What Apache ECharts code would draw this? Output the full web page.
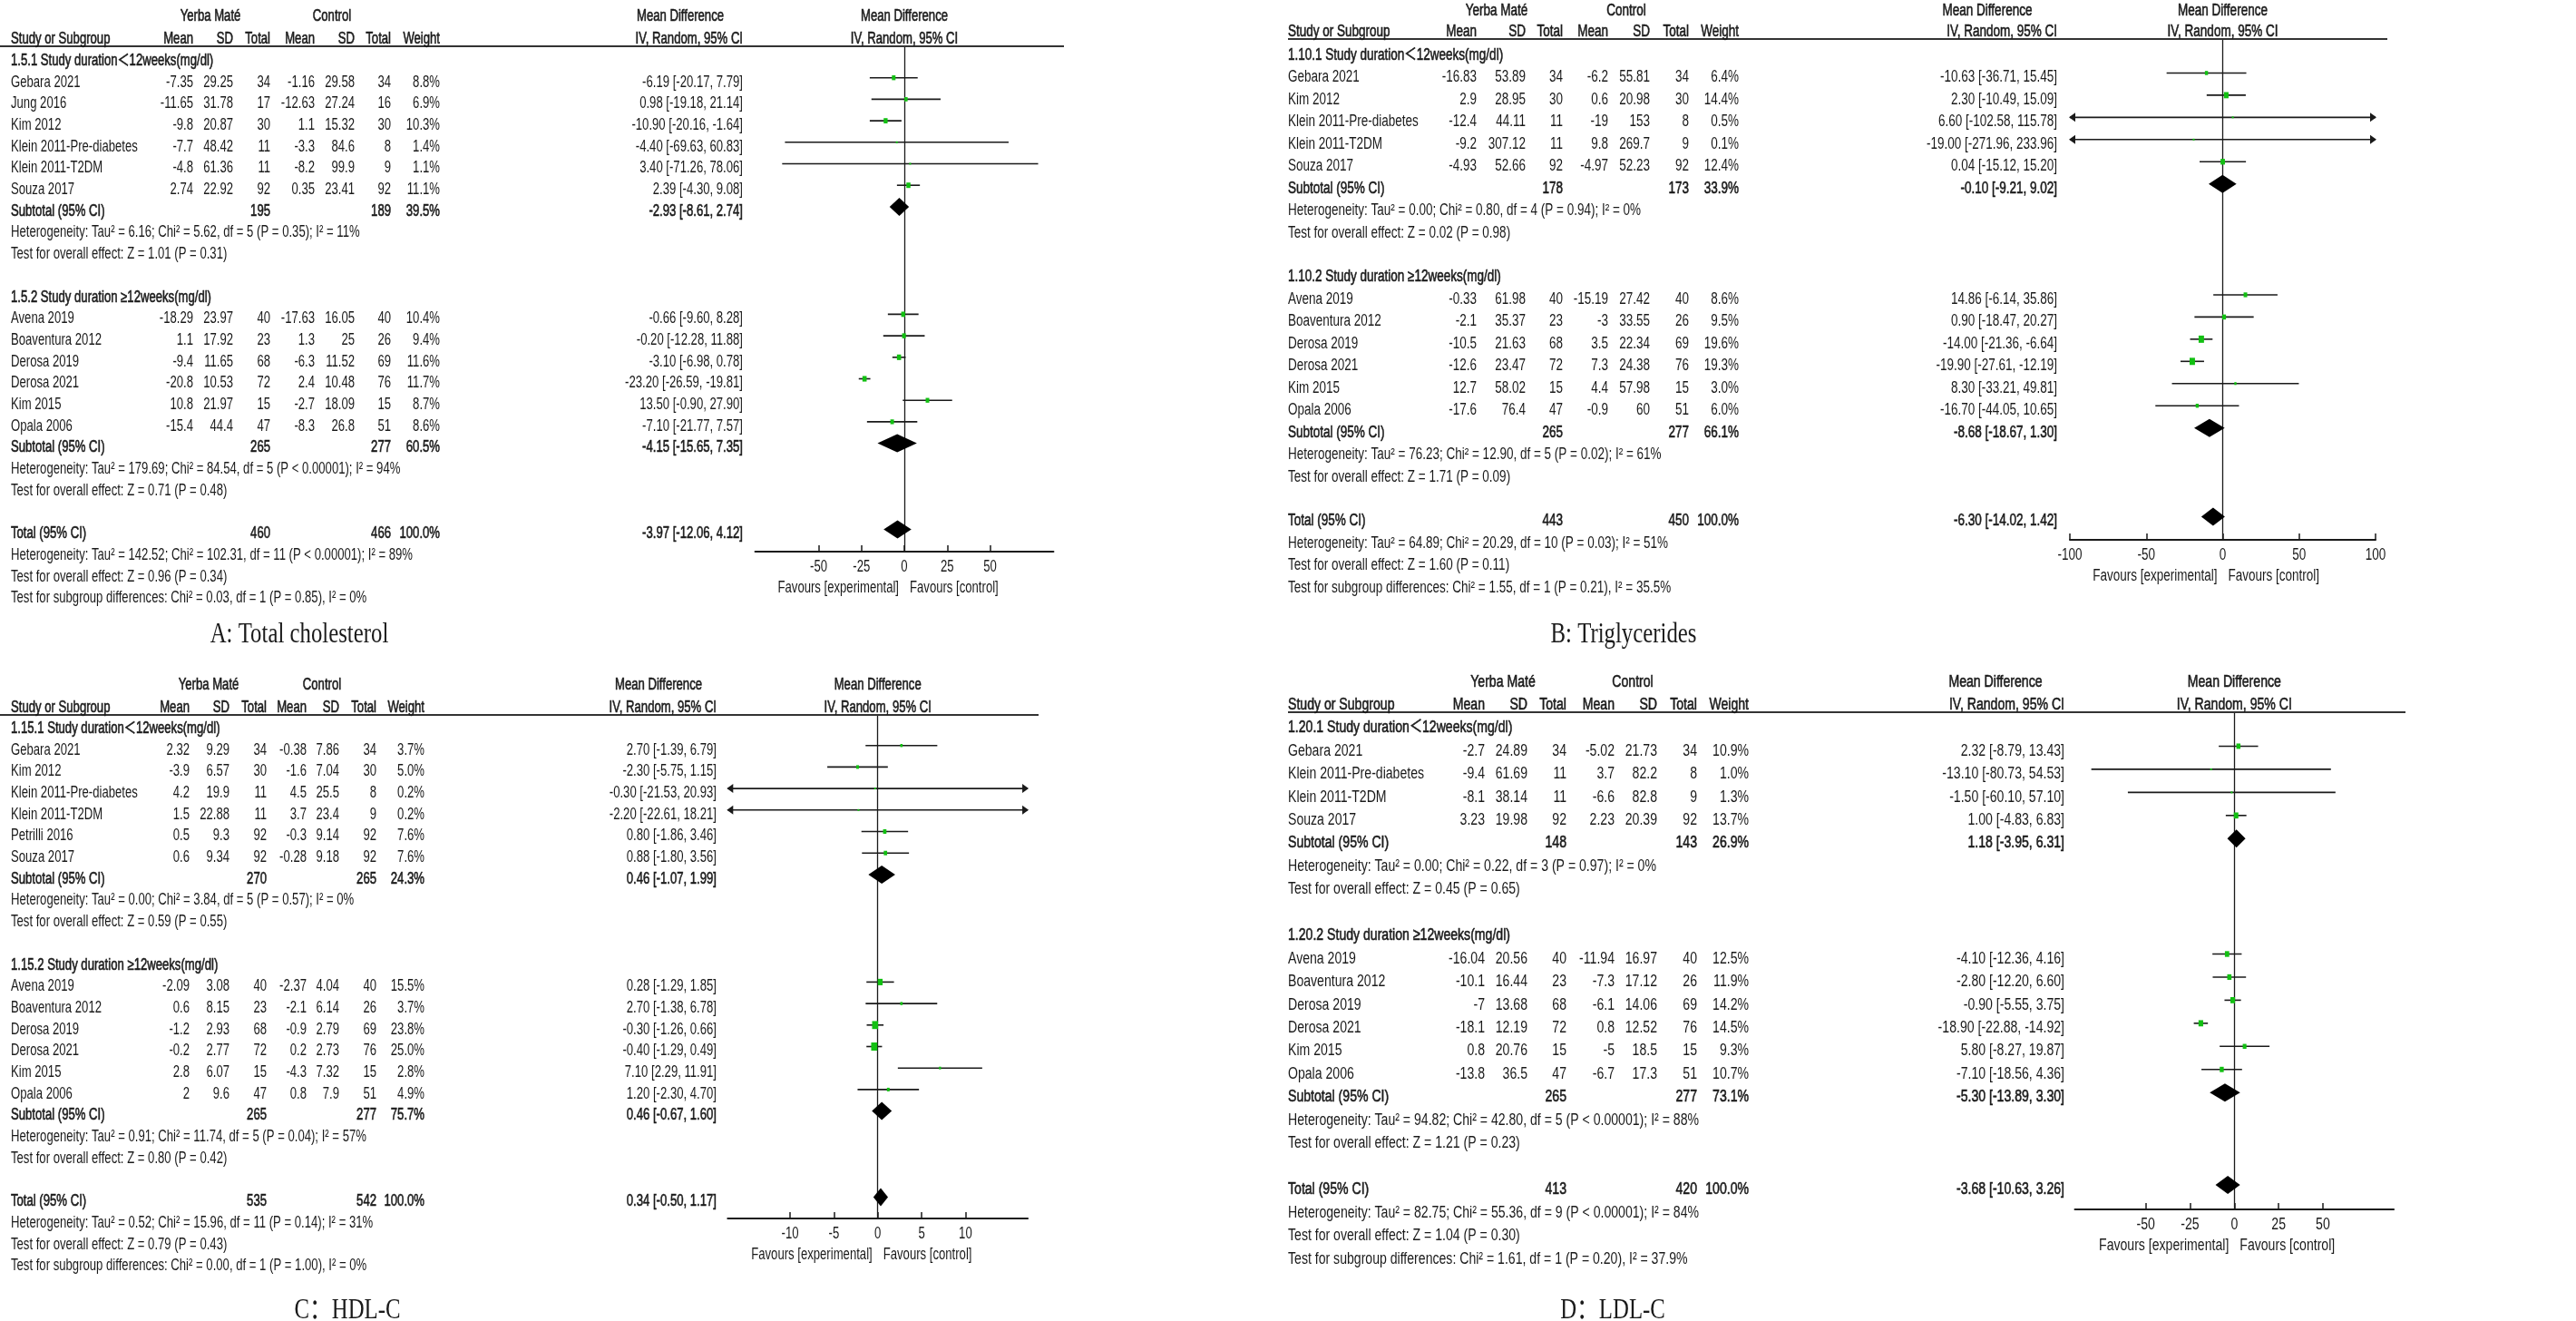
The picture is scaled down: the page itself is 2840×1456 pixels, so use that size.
<!DOCTYPE html>
<html><head><meta charset="utf-8">
<script src="https://cdn.jsdelivr.net/npm/echarts@6/dist/echarts.min.js"></script>
<style>html,body{margin:0;padding:0;background:#fff}#c{width:2840px;height:1456px}</style>
</head><body><div id="c"></div>
<script>
// ================= DATA =================
// ---- A: Total cholesterol ----
const tcHeadings = ['1.5.1 Study duration\uFF1C12weeks(mg/dl)', '1.5.2 Study duration \u226512weeks(mg/dl)'];
const tcStudies1 = ['Gebara 2021','Jung 2016','Kim 2012','Klein 2011-Pre-diabetes','Klein 2011-T2DM','Souza 2017'];
const tcYerba1 = [[-7.35,29.25,34],[-11.65,31.78,17],[-9.8,20.87,30],[-7.7,48.42,11],[-4.8,61.36,11],[2.74,22.92,92]];
const tcControl1 = [[-1.16,29.58,34],[-12.63,27.24,16],[1.1,15.32,30],[-3.3,84.6,8],[-8.2,99.9,9],[0.35,23.41,92]];
const tcWeight1 = [8.8,6.9,10.3,1.4,1.1,11.1];
const tcEffect1 = [[-6.19,-20.17,7.79],[0.98,-19.18,21.14],[-10.90,-20.16,-1.64],[-4.40,-69.63,60.83],[3.40,-71.26,78.06],[2.39,-4.30,9.08]];
const tcStudies2 = ['Avena 2019','Boaventura 2012','Derosa 2019','Derosa 2021','Kim 2015','Opala 2006'];
const tcYerba2 = [[-18.29,23.97,40],[1.1,17.92,23],[-9.4,11.65,68],[-20.8,10.53,72],[10.8,21.97,15],[-15.4,44.4,47]];
const tcControl2 = [[-17.63,16.05,40],[1.3,25,26],[-6.3,11.52,69],[2.4,10.48,76],[-2.7,18.09,15],[-8.3,26.8,51]];
const tcWeight2 = [10.4,9.4,11.6,11.7,8.7,8.6];
const tcEffect2 = [[-0.66,-9.60,8.28],[-0.20,-12.28,11.88],[-3.10,-6.98,0.78],[-23.20,-26.59,-19.81],[13.50,-0.90,27.90],[-7.10,-21.77,7.57]];
const tcPooled = [[195,189,39.5,-2.93,-8.61,2.74],[265,277,60.5,-4.15,-15.65,7.35],[460,466,100.0,-3.97,-12.06,4.12]];
const tcStats = [
  'Heterogeneity: Tau\u00B2 = 6.16; Chi\u00B2 = 5.62, df = 5 (P = 0.35); I\u00B2 = 11%',
  'Test for overall effect: Z = 1.01 (P = 0.31)',
  'Heterogeneity: Tau\u00B2 = 179.69; Chi\u00B2 = 84.54, df = 5 (P < 0.00001); I\u00B2 = 94%',
  'Test for overall effect: Z = 0.71 (P = 0.48)',
  'Heterogeneity: Tau\u00B2 = 142.52; Chi\u00B2 = 102.31, df = 11 (P < 0.00001); I\u00B2 = 89%',
  'Test for overall effect: Z = 0.96 (P = 0.34)',
  'Test for subgroup differences: Chi\u00B2 = 0.03, df = 1 (P = 0.85), I\u00B2 = 0%'];
const tcTicks = [-50,-25,0,25,50];

// ---- B: Triglycerides ----
const tgHeadings = ['1.10.1 Study duration\uFF1C12weeks(mg/dl)', '1.10.2 Study duration \u226512weeks(mg/dl)'];
const tgStudies1 = ['Gebara 2021','Kim 2012','Klein 2011-Pre-diabetes','Klein 2011-T2DM','Souza 2017'];
const tgYerba1 = [[-16.83,53.89,34],[2.9,28.95,30],[-12.4,44.11,11],[-9.2,307.12,11],[-4.93,52.66,92]];
const tgControl1 = [[-6.2,55.81,34],[0.6,20.98,30],[-19,153,8],[9.8,269.7,9],[-4.97,52.23,92]];
const tgWeight1 = [6.4,14.4,0.5,0.1,12.4];
const tgEffect1 = [[-10.63,-36.71,15.45],[2.30,-10.49,15.09],[6.60,-102.58,115.78],[-19.00,-271.96,233.96],[0.04,-15.12,15.20]];
const tgStudies2 = ['Avena 2019','Boaventura 2012','Derosa 2019','Derosa 2021','Kim 2015','Opala 2006'];
const tgYerba2 = [[-0.33,61.98,40],[-2.1,35.37,23],[-10.5,21.63,68],[-12.6,23.47,72],[12.7,58.02,15],[-17.6,76.4,47]];
const tgControl2 = [[-15.19,27.42,40],[-3,33.55,26],[3.5,22.34,69],[7.3,24.38,76],[4.4,57.98,15],[-0.9,60,51]];
const tgWeight2 = [8.6,9.5,19.6,19.3,3.0,6.0];
const tgEffect2 = [[14.86,-6.14,35.86],[0.90,-18.47,20.27],[-14.00,-21.36,-6.64],[-19.90,-27.61,-12.19],[8.30,-33.21,49.81],[-16.70,-44.05,10.65]];
const tgPooled = [[178,173,33.9,-0.10,-9.21,9.02],[265,277,66.1,-8.68,-18.67,1.30],[443,450,100.0,-6.30,-14.02,1.42]];
const tgStats = [
  'Heterogeneity: Tau\u00B2 = 0.00; Chi\u00B2 = 0.80, df = 4 (P = 0.94); I\u00B2 = 0%',
  'Test for overall effect: Z = 0.02 (P = 0.98)',
  'Heterogeneity: Tau\u00B2 = 76.23; Chi\u00B2 = 12.90, df = 5 (P = 0.02); I\u00B2 = 61%',
  'Test for overall effect: Z = 1.71 (P = 0.09)',
  'Heterogeneity: Tau\u00B2 = 64.89; Chi\u00B2 = 20.29, df = 10 (P = 0.03); I\u00B2 = 51%',
  'Test for overall effect: Z = 1.60 (P = 0.11)',
  'Test for subgroup differences: Chi\u00B2 = 1.55, df = 1 (P = 0.21), I\u00B2 = 35.5%'];
const tgTicks = [-100,-50,0,50,100];

// ---- C: HDL-C ----
const hdlHeadings = ['1.15.1 Study duration\uFF1C12weeks(mg/dl)', '1.15.2 Study duration \u226512weeks(mg/dl)'];
const hdlStudies1 = ['Gebara 2021','Kim 2012','Klein 2011-Pre-diabetes','Klein 2011-T2DM','Petrilli 2016','Souza 2017'];
const hdlYerba1 = [[2.32,9.29,34],[-3.9,6.57,30],[4.2,19.9,11],[1.5,22.88,11],[0.5,9.3,92],[0.6,9.34,92]];
const hdlControl1 = [[-0.38,7.86,34],[-1.6,7.04,30],[4.5,25.5,8],[3.7,23.4,9],[-0.3,9.14,92],[-0.28,9.18,92]];
const hdlWeight1 = [3.7,5.0,0.2,0.2,7.6,7.6];
const hdlEffect1 = [[2.70,-1.39,6.79],[-2.30,-5.75,1.15],[-0.30,-21.53,20.93],[-2.20,-22.61,18.21],[0.80,-1.86,3.46],[0.88,-1.80,3.56]];
const hdlStudies2 = ['Avena 2019','Boaventura 2012','Derosa 2019','Derosa 2021','Kim 2015','Opala 2006'];
const hdlYerba2 = [[-2.09,3.08,40],[0.6,8.15,23],[-1.2,2.93,68],[-0.2,2.77,72],[2.8,6.07,15],[2,9.6,47]];
const hdlControl2 = [[-2.37,4.04,40],[-2.1,6.14,26],[-0.9,2.79,69],[0.2,2.73,76],[-4.3,7.32,15],[0.8,7.9,51]];
const hdlWeight2 = [15.5,3.7,23.8,25.0,2.8,4.9];
const hdlEffect2 = [[0.28,-1.29,1.85],[2.70,-1.38,6.78],[-0.30,-1.26,0.66],[-0.40,-1.29,0.49],[7.10,2.29,11.91],[1.20,-2.30,4.70]];
const hdlPooled = [[270,265,24.3,0.46,-1.07,1.99],[265,277,75.7,0.46,-0.67,1.60],[535,542,100.0,0.34,-0.50,1.17]];
const hdlStats = [
  'Heterogeneity: Tau\u00B2 = 0.00; Chi\u00B2 = 3.84, df = 5 (P = 0.57); I\u00B2 = 0%',
  'Test for overall effect: Z = 0.59 (P = 0.55)',
  'Heterogeneity: Tau\u00B2 = 0.91; Chi\u00B2 = 11.74, df = 5 (P = 0.04); I\u00B2 = 57%',
  'Test for overall effect: Z = 0.80 (P = 0.42)',
  'Heterogeneity: Tau\u00B2 = 0.52; Chi\u00B2 = 15.96, df = 11 (P = 0.14); I\u00B2 = 31%',
  'Test for overall effect: Z = 0.79 (P = 0.43)',
  'Test for subgroup differences: Chi\u00B2 = 0.00, df = 1 (P = 1.00), I\u00B2 = 0%'];
const hdlTicks = [-10,-5,0,5,10];

// ---- D: LDL-C ----
const ldlHeadings = ['1.20.1 Study duration\uFF1C12weeks(mg/dl)', '1.20.2 Study duration \u226512weeks(mg/dl)'];
const ldlStudies1 = ['Gebara 2021','Klein 2011-Pre-diabetes','Klein 2011-T2DM','Souza 2017'];
const ldlYerba1 = [[-2.7,24.89,34],[-9.4,61.69,11],[-8.1,38.14,11],[3.23,19.98,92]];
const ldlControl1 = [[-5.02,21.73,34],[3.7,82.2,8],[-6.6,82.8,9],[2.23,20.39,92]];
const ldlWeight1 = [10.9,1.0,1.3,13.7];
const ldlEffect1 = [[2.32,-8.79,13.43],[-13.10,-80.73,54.53],[-1.50,-60.10,57.10],[1.00,-4.83,6.83]];
const ldlStudies2 = ['Avena 2019','Boaventura 2012','Derosa 2019','Derosa 2021','Kim 2015','Opala 2006'];
const ldlYerba2 = [[-16.04,20.56,40],[-10.1,16.44,23],[-7,13.68,68],[-18.1,12.19,72],[0.8,20.76,15],[-13.8,36.5,47]];
const ldlControl2 = [[-11.94,16.97,40],[-7.3,17.12,26],[-6.1,14.06,69],[0.8,12.52,76],[-5,18.5,15],[-6.7,17.3,51]];
const ldlWeight2 = [12.5,11.9,14.2,14.5,9.3,10.7];
const ldlEffect2 = [[-4.10,-12.36,4.16],[-2.80,-12.20,6.60],[-0.90,-5.55,3.75],[-18.90,-22.88,-14.92],[5.80,-8.27,19.87],[-7.10,-18.56,4.36]];
const ldlPooled = [[148,143,26.9,1.18,-3.95,6.31],[265,277,73.1,-5.30,-13.89,3.30],[413,420,100.0,-3.68,-10.63,3.26]];
const ldlStats = [
  'Heterogeneity: Tau\u00B2 = 0.00; Chi\u00B2 = 0.22, df = 3 (P = 0.97); I\u00B2 = 0%',
  'Test for overall effect: Z = 0.45 (P = 0.65)',
  'Heterogeneity: Tau\u00B2 = 94.82; Chi\u00B2 = 42.80, df = 5 (P < 0.00001); I\u00B2 = 88%',
  'Test for overall effect: Z = 1.21 (P = 0.23)',
  'Heterogeneity: Tau\u00B2 = 82.75; Chi\u00B2 = 55.36, df = 9 (P < 0.00001); I\u00B2 = 84%',
  'Test for overall effect: Z = 1.04 (P = 0.30)',
  'Test for subgroup differences: Chi\u00B2 = 1.61, df = 1 (P = 0.20), I\u00B2 = 37.9%'];
const ldlTicks = [-50,-25,0,25,50];

const colHeaders = ['Mean','SD','Total','Mean','SD','Total','Weight','IV, Random, 95% CI'];
const panelLabels = ['A: Total cholesterol', 'B: Triglycerides', 'C\uFF1AHDL-C', 'D\uFF1ALDL-C'];

// ================= LAYOUT / STYLE =================
const FONT = '"Liberation Sans", Arial, "Noto Sans CJK SC", sans-serif';
const SERIF = '"Liberation Serif", "Times New Roman", "Noto Sans CJK SC", serif';
const INK = '#1a1a1a';
const GREEN = '#12c012';
const K = 0.75; // horizontal condensation of the source figure

const layouts = [
  {x0:12, cols:[213,257,298,347,391,431,485,819], ymC:232, ctlC:366, mdHC:750, hdr1:18, hdr2:43, lineY:51, lineX0:0, lineX1:1173,
   row0:67, sp:23.7, mOff:-5, fs:17.5, zero:997, ppu:1.89, range:87, axisY:608, labelX:330, labelY:700, labelFs:31},
  {x0:1420, cols:[1628,1682,1723,1773,1819,1862,1917,2268], ymC:1650, ctlC:1793, mdHC:2191, hdr1:12, hdr2:35, lineY:43, lineX0:1420, lineX1:2632,
   row0:61, sp:24.45, mOff:-5, fs:18, zero:2450.5, ppu:1.685, range:100, axisY:595, labelX:1790, labelY:700, labelFs:31},
  {x0:12, cols:[209,253,294,338,374,415,468,790], ymC:230, ctlC:355, mdHC:726, hdr1:755, hdr2:780, lineY:788, lineX0:0, lineX1:1145,
   row0:803, sp:23.7, mOff:-5, fs:17.5, zero:967.7, ppu:9.67, range:17.1, axisY:1343, labelX:383, labelY:1445, labelFs:31},
  {x0:1420, cols:[1637,1684,1727,1780,1827,1871,1928,2276], ymC:1657, ctlC:1800, mdHC:2200, hdr1:752, hdr2:777, lineY:785, lineX0:1420, lineX1:2652,
   row0:802, sp:25.45, mOff:-5, fs:18.8, zero:2463.3, ppu:1.953, range:90, axisY:1333, labelX:1778, labelY:1445, labelFs:31}
];

const panelData = [
  {headings:tcHeadings, studies1:tcStudies1, yerba1:tcYerba1, control1:tcControl1, weight1:tcWeight1, effect1:tcEffect1,
   studies2:tcStudies2, yerba2:tcYerba2, control2:tcControl2, weight2:tcWeight2, effect2:tcEffect2, pooled:tcPooled, stats:tcStats, ticks:tcTicks},
  {headings:tgHeadings, studies1:tgStudies1, yerba1:tgYerba1, control1:tgControl1, weight1:tgWeight1, effect1:tgEffect1,
   studies2:tgStudies2, yerba2:tgYerba2, control2:tgControl2, weight2:tgWeight2, effect2:tgEffect2, pooled:tgPooled, stats:tgStats, ticks:tgTicks},
  {headings:hdlHeadings, studies1:hdlStudies1, yerba1:hdlYerba1, control1:hdlControl1, weight1:hdlWeight1, effect1:hdlEffect1,
   studies2:hdlStudies2, yerba2:hdlYerba2, control2:hdlControl2, weight2:hdlWeight2, effect2:hdlEffect2, pooled:hdlPooled, stats:hdlStats, ticks:hdlTicks},
  {headings:ldlHeadings, studies1:ldlStudies1, yerba1:ldlYerba1, control1:ldlControl1, weight1:ldlWeight1, effect1:ldlEffect1,
   studies2:ldlStudies2, yerba2:ldlYerba2, control2:ldlControl2, weight2:ldlWeight2, effect2:ldlEffect2, pooled:ldlPooled, stats:ldlStats, ticks:ldlTicks}
];

function mdText(e) { return e[0].toFixed(2) + ' [' + e[1].toFixed(2) + ', ' + e[2].toFixed(2) + ']'; }

const option = {animation:false, backgroundColor:'#fff', graphic:{elements:[]}, grid:[], xAxis:[], yAxis:[], series:[]};
const G = option.graphic.elements;

function textEl(x, y, text, align, bold, size, fam, k) {
  const style = {text:text, font: size + 'px ' + (fam || FONT), fill:INK,
    textAlign:align, textVerticalAlign:'middle', align:align, verticalAlign:'middle'};
  if (bold) { style.stroke = INK; style.lineWidth = 0.6; }
  return {type:'text', x:x, y:y, scaleX:(k || K), silent:true, z:10, style:style};
}

function buildPanel(D, L, idx, label) {
  const fs = L.fs;
  const T = (x, y, t, a, b) => G.push(textEl(x, y, t, a, b, fs));
  // header
  T(L.ymC, L.hdr1, 'Yerba Mat\u00E9', 'center', true);
  T(L.ctlC, L.hdr1, 'Control', 'center', true);
  T(L.mdHC, L.hdr1, 'Mean Difference', 'center', true);
  T(L.zero, L.hdr1, 'Mean Difference', 'center', true);
  T(L.x0, L.hdr2, 'Study or Subgroup', 'left', true);
  colHeaders.forEach((h, i) => T(L.cols[i], L.hdr2, h, 'right', true));
  T(L.zero, L.hdr2, 'IV, Random, 95% CI', 'center', true);
  G.push({type:'line', silent:true, z:5, shape:{x1:L.lineX0, y1:L.lineY, x2:L.lineX1, y2:L.lineY}, style:{stroke:'#333', lineWidth:2}});

  const ry = r => L.row0 + r * L.sp;
  const pts = [];
  let r = 0;
  const studyRow = (name, ye, co, w, ef) => {
    const y = ry(r);
    T(L.x0, y, name, 'left');
    [ye[0], ye[1], ye[2], co[0], co[1], co[2]].forEach((v, i) => T(L.cols[i], y, String(v), 'right'));
    T(L.cols[6], y, w.toFixed(1) + '%', 'right');
    T(L.cols[7], y, mdText(ef), 'right');
    pts.push([ef[0], ef[1], ef[2], r, w, 0]);
  };
  const pooledRow = (lab, p) => {
    const y = ry(r);
    T(L.x0, y, lab, 'left', true);
    T(L.cols[2], y, String(p[0]), 'right', true);
    T(L.cols[5], y, String(p[1]), 'right', true);
    T(L.cols[6], y, p[2].toFixed(1) + '%', 'right', true);
    T(L.cols[7], y, mdText([p[3], p[4], p[5]]), 'right', true);
    pts.push([p[3], p[4], p[5], r, p[2], 1]);
  };
  T(L.x0, ry(r), D.headings[0], 'left', true);
  D.studies1.forEach((s, i) => { r++; studyRow(s, D.yerba1[i], D.control1[i], D.weight1[i], D.effect1[i]); });
  r++; pooledRow('Subtotal (95% CI)', D.pooled[0]);
  r++; T(L.x0, ry(r), D.stats[0], 'left');
  r++; T(L.x0, ry(r), D.stats[1], 'left');
  r += 2; T(L.x0, ry(r), D.headings[1], 'left', true);
  D.studies2.forEach((s, i) => { r++; studyRow(s, D.yerba2[i], D.control2[i], D.weight2[i], D.effect2[i]); });
  r++; pooledRow('Subtotal (95% CI)', D.pooled[1]);
  r++; T(L.x0, ry(r), D.stats[2], 'left');
  r++; T(L.x0, ry(r), D.stats[3], 'left');
  r += 2; pooledRow('Total (95% CI)', D.pooled[2]);
  r++; T(L.x0, ry(r), D.stats[4], 'left');
  r++; T(L.x0, ry(r), D.stats[5], 'left');
  r++; T(L.x0, ry(r), D.stats[6], 'left');

  // favours + panel label
  T(L.zero - 6, L.axisY + 40, 'Favours [experimental]', 'right');
  T(L.zero + 6, L.axisY + 40, 'Favours [control]', 'left');
  G.push(textEl(L.labelX, L.labelY, label, 'center', false, L.labelFs, SERIF, 0.8));

  // plot area through ECharts axes
  const R = L.range;
  const base = L.row0 + L.mOff;
  const yMin = (L.lineY - base) / L.sp, yMax = (L.axisY - base) / L.sp;
  option.grid.push({left: L.zero - R * L.ppu, top: L.lineY, width: 2 * R * L.ppu, height: L.axisY - L.lineY});
  option.xAxis.push({type:'value', gridIndex: idx, min: -R, max: R, position:'bottom',
    axisLine:{show:true, onZero:false, lineStyle:{color:INK, width:2}},
    axisTick:{show:true, inside:true, length:7, customValues: D.ticks, lineStyle:{color:INK, width:1.5}},
    axisLabel:{show:false}, splitLine:{show:false}});
  option.yAxis.push({type:'value', gridIndex: idx, inverse:true, min: yMin, max: yMax,
    axisLine:{show:true, onZero:true, lineStyle:{color:INK, width:1.3}},
    axisTick:{show:false}, axisLabel:{show:false}, splitLine:{show:false}});
  // study estimates / pooled diamonds
  option.series.push({type:'custom', xAxisIndex: idx, yAxisIndex: idx, coordinateSystem:'cartesian2d',
    clip:false, silent:true, encode:{x:0, y:3}, data: pts,
    renderItem: function (params, api) {
      const md = api.value(0), lo = api.value(1), hi = api.value(2), row = api.value(3), w = api.value(4), kind = api.value(5);
      const c = api.coord([md, row]);
      const y = c[1];
      const xl = api.coord([Math.max(lo, -R), row])[0];
      const xh = api.coord([Math.min(hi, R), row])[0];
      if (kind === 1) {
        return {type:'polygon', shape:{points:[[xl, y], [c[0], y - 10], [xh, y], [c[0], y + 10]]}, style:{fill:'#000'}};
      }
      const ch = [{type:'line', shape:{x1:xl, y1:y, x2:xh, y2:y}, style:{stroke:INK, lineWidth:1.6}}];
      if (lo < -R) ch.push({type:'polygon', shape:{points:[[xl - 1, y], [xl + 6, y - 5], [xl + 6, y + 5]]}, style:{fill:INK}});
      if (hi > R) ch.push({type:'polygon', shape:{points:[[xh + 1, y], [xh - 6, y - 5], [xh - 6, y + 5]]}, style:{fill:INK}});
      const s = Math.max(2, 1.8 * Math.sqrt(w));
      const sw = Math.max(2, s * K);
      ch.push({type:'rect', shape:{x:c[0] - sw / 2, y:y - s / 2, width:sw, height:s}, style:{fill:GREEN}});
      return {type:'group', children: ch};
    }});
  // tick labels (condensed) placed by the axis scale
  option.series.push({type:'custom', xAxisIndex: idx, yAxisIndex: idx, coordinateSystem:'cartesian2d',
    clip:false, silent:true, encode:{x:0, y:1}, data: D.ticks.map(t => [t, yMax]),
    renderItem: function (params, api) {
      const c = api.coord([api.value(0), api.value(1)]);
      return {type:'text', x:c[0], y:c[1] + 17, scaleX:K,
        style:{text:String(api.value(0)), font: fs + 'px ' + FONT, fill:INK, align:'center', verticalAlign:'middle'}};
    }});
}

panelData.forEach((D, i) => buildPanel(D, layouts[i], i, panelLabels[i]));

const chart = echarts.init(document.getElementById('c'), null, {renderer:'canvas'});
chart.setOption(option);
</script>
</body></html>
